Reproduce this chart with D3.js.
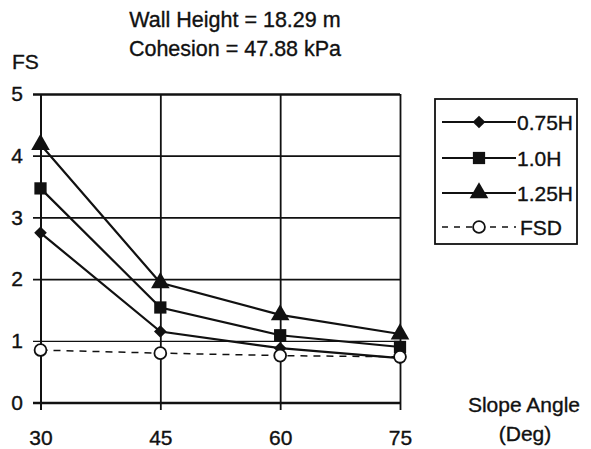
<!DOCTYPE html>
<html>
<head>
<meta charset="utf-8">
<script src="https://cdn.jsdelivr.net/npm/d3@7"></script>
<style>
  body { margin: 0; background: #fff; }
  svg { font-family: "Liberation Sans", Arial, sans-serif; }
  svg text { stroke: #111; stroke-width: 0.35px; fill: #111; }
</style>
</head>
<body>
<svg id="chart" width="591" height="449"></svg>
<script>
// Data
const angles = [30, 45, 60, 75];
const fs075 = [2.75, 1.15, 0.88, 0.72];
const fs100 = [3.47, 1.54, 1.09, 0.90];
const fs125 = [4.18, 1.94, 1.42, 1.11];
const fsd = [0.85, 0.80, 0.76, 0.74];
const yTicks = [0, 1, 2, 3, 4, 5];
const seriesNames = ["0.75H", "1.0H", "1.25H", "FSD"];
const seriesMarks = ["diamond", "square", "triangle", "circle"];

const svg = d3.select("#chart");

const x = d3.scaleLinear().domain([30, 75]).range([40.5, 400]);
const y = d3.scaleLinear().domain([0, 5]).range([402.5, 94]);

// Titles
svg.append("text").attr("x", 235).attr("y", 27).attr("text-anchor", "middle")
  .attr("font-size", 21.5).text("Wall Height = 18.29 m");
svg.append("text").attr("x", 235).attr("y", 56).attr("text-anchor", "middle")
  .attr("font-size", 21.5).text("Cohesion = 47.88 kPa");
svg.append("text").attr("x", 12).attr("y", 69).attr("font-size", 21).text("FS");
svg.append("text").attr("x", 524).attr("y", 412).attr("text-anchor", "middle")
  .attr("font-size", 21).text("Slope Angle");
svg.append("text").attr("x", 525).attr("y", 441).attr("text-anchor", "middle")
  .attr("font-size", 21).text("(Deg)");

// Horizontal grid + y labels
const yAxis = d3.axisLeft(y).tickValues(yTicks).tickFormat(d3.format("d"))
  .tickSize(-367).tickPadding(10);
const gy = svg.append("g").attr("transform", "translate(33,0)").call(yAxis);
gy.select(".domain").remove();
gy.selectAll(".tick line")
  .attr("stroke", "#111")
  .attr("stroke-width", d => (d === 0 || d === 5) ? 2.6 : (d === 1 ? 1.2 : 1.8));
gy.selectAll(".tick text").attr("font-size", 21).attr("fill", "#111");

// Vertical grid + x labels
const xAxis = d3.axisBottom(x).tickValues(angles).tickFormat(d3.format("d"))
  .tickSize(-316).tickPadding(20);
const gx = svg.append("g").attr("transform", "translate(0,410)").call(xAxis);
gx.select(".domain").remove();
gx.selectAll(".tick line").attr("stroke", "#111")
  .attr("stroke-width", d => d === 30 ? 2 : 1.8);
gx.selectAll(".tick text").attr("font-size", 21).attr("fill", "#111");

// Markers
const symbolTypes = {
  diamond: d3.symbolSquare,
  square: d3.symbolSquare,
  triangle: d3.symbolTriangle,
  circle: d3.symbolCircle
};
const symbolSizes = { diamond: 80, square: 150, triangle: 150, circle: 110 };

function drawMarker(g, kind, cx, cy) {
  const rot = kind === "diamond" ? " rotate(45)" : "";
  const p = g.append("path")
    .attr("d", d3.symbol().type(symbolTypes[kind]).size(symbolSizes[kind])())
    .attr("transform", `translate(${cx},${cy})${rot}`);
  if (kind === "circle") {
    p.attr("fill", "#fff").attr("stroke", "#111").attr("stroke-width", 1.8);
  } else {
    p.attr("fill", "#111");
  }
}

const line = d3.line().x((d, i) => x(angles[i])).y(d => y(d));
const allSeries = [fs075, fs100, fs125, fsd];

allSeries.forEach((vals, k) => {
  const dashed = k === 3;
  svg.append("path")
    .attr("d", line(vals))
    .attr("fill", "none")
    .attr("stroke", "#111")
    .attr("stroke-width", dashed ? 1.5 : 2.2)
    .attr("stroke-dasharray", dashed ? "7,6" : null);
});
allSeries.forEach((vals, k) => {
  const g = svg.append("g");
  vals.forEach((v, i) => drawMarker(g, seriesMarks[k], x(angles[i]), y(v)));
});

// Legend
const legend = svg.append("g");
legend.append("rect")
  .attr("x", 435).attr("y", 99).attr("width", 142).attr("height", 145)
  .attr("fill", "#fff").attr("stroke", "#111").attr("stroke-width", 1.8);
const rowY = [122, 158, 193, 227];
seriesNames.forEach((name, k) => {
  const dashed = k === 3;
  legend.append("line")
    .attr("x1", 442).attr("x2", 516).attr("y1", rowY[k]).attr("y2", rowY[k])
    .attr("stroke", "#111")
    .attr("stroke-width", dashed ? 1.5 : 2.2)
    .attr("stroke-dasharray", dashed ? "6,6" : null);
  drawMarker(legend, seriesMarks[k], 479, rowY[k]);
  legend.append("text")
    .attr("x", dashed ? 520 : 517).attr("y", rowY[k] + 8)
    .attr("font-size", 21).attr("fill", "#111").text(name);
});
</script>
</body>
</html>
